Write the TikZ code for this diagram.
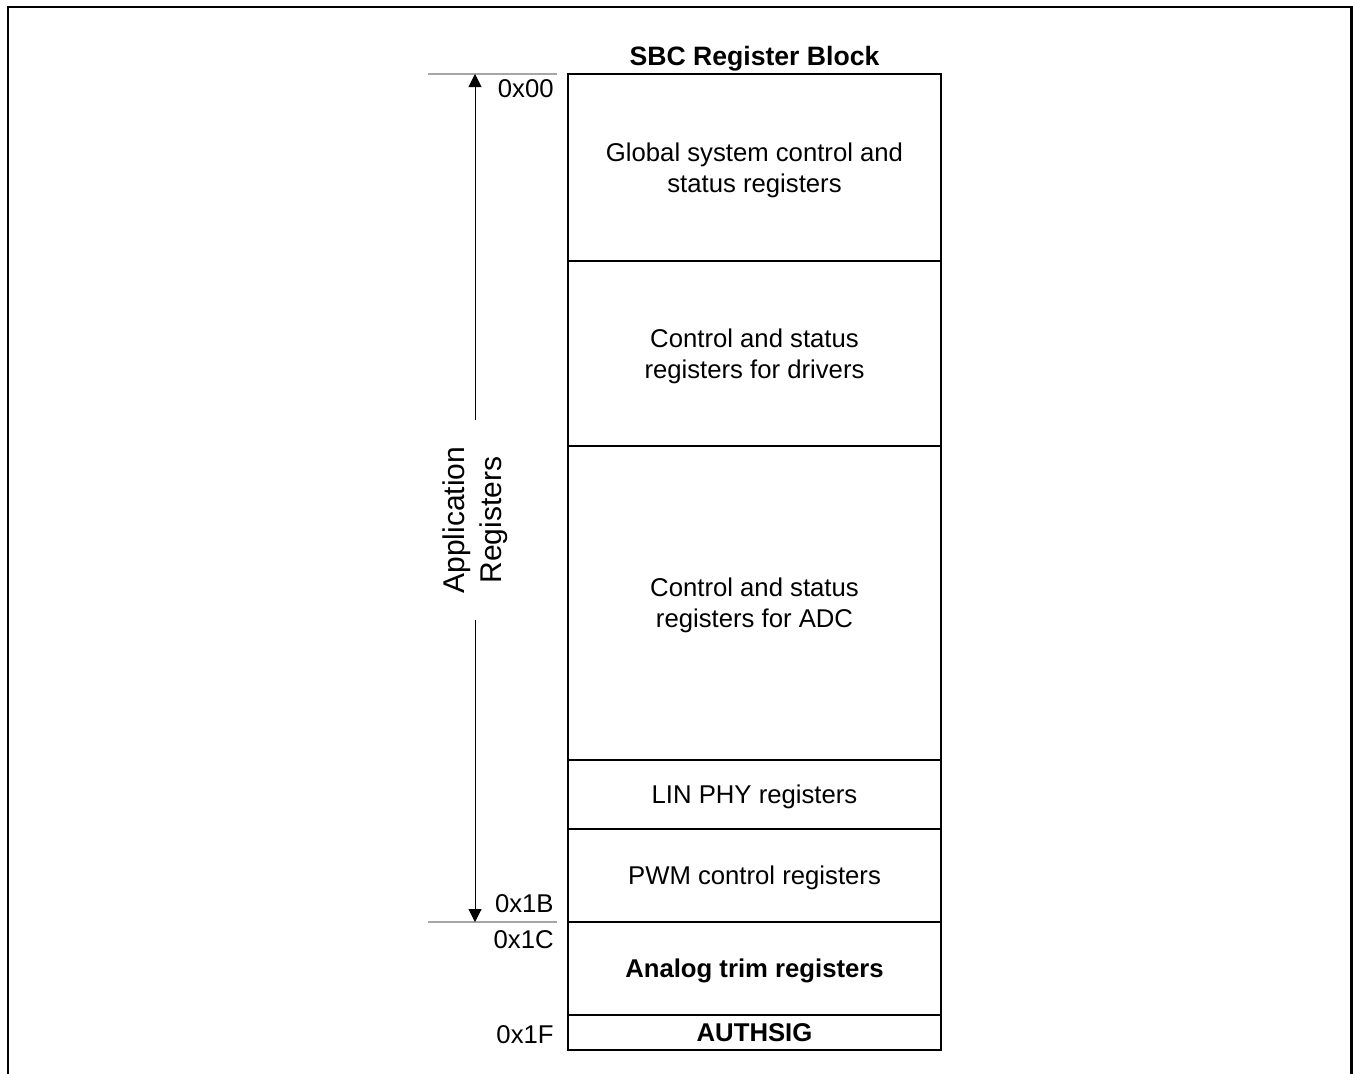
\documentclass[tikz,border=0pt]{standalone}
\usepackage{fontspec}
\setmainfont{Liberation Sans}
\usetikzlibrary{arrows.meta,positioning}

\tikzset{
  regblk/.style={draw,line width=1pt,minimum width=186.5pt,inner sep=0pt,outer sep=0pt,
    text depth=0pt,align=center,font=\fontsize{12.85}{15.5}\selectfont},
  regbold/.style={regblk,font=\fontsize{12.85}{15.5}\selectfont\bfseries},
  hexlbl/.style={anchor=east,inner sep=0pt,font=\fontsize{12.85}{15.5}\selectfont},
  bndline/.style={gray!70,line width=0.75pt},
}

\begin{document}
\begin{tikzpicture}[x=0.5pt,y=-0.5pt,>={Triangle[length=6.5pt,width=6.5pt]}]
  \useasboundingbox (0,0) rectangle (1353,1073);
  % outer frame, runs off the bottom of the page
  \draw[line width=1.3pt] (8,1090) -- (8,7) -- (1351.5,7) -- (1351.5,1090);

  \node[font=\fontsize{13.3}{16}\selectfont\bfseries] (ttl) at (754.5,59) {SBC Register Block};

  % register map
  \node[regblk,minimum height=93.5pt,anchor=north] (glob) at (754.5,74) {Global system control and\\status registers};
  \node[regblk,minimum height=92.5pt,below=0pt of glob] (drv) {Control and status\\registers for drivers};
  \node[regblk,minimum height=157pt,below=0pt of drv] (adc) {Control and status\\registers for ADC};
  \node[regblk,minimum height=34.5pt,below=0pt of adc] (lin) {LIN PHY registers};
  \node[regblk,minimum height=46.5pt,below=0pt of lin] (pwm) {PWM control registers};
  \node[regbold,minimum height=46.5pt,below=0pt of pwm] (trim) {Analog trim registers};
  \node[regbold,minimum height=17.5pt,below=0pt of trim] (auth) {AUTHSIG};

  % addresses
  \node[hexlbl] (a00) at (554,88.5) {0x00};
  \node[hexlbl] (a1b) at (554,904) {0x1B};
  \node[hexlbl] (a1c) at (554,940) {0x1C};
  \node[hexlbl] (a1f) at (554,1035) {0x1F};

  \draw[bndline] (428,74) -- (557,74);
  \draw[bndline] (428,922) -- (557,922);

  % application range
  \coordinate (apptop) at (475,74);
  \coordinate (appbot) at (475,922);
  \node[rotate=90,align=center,minimum width=100pt,inner sep=0pt,
    font=\fontsize{15}{18.5}\selectfont] (appreg) at (475,520) {Application\\Registers};
  \draw[->,line width=0.5pt] (appreg.east) -- (apptop);
  \draw[->,line width=0.5pt] (appreg.west) -- (appbot);
\end{tikzpicture}
\end{document}
